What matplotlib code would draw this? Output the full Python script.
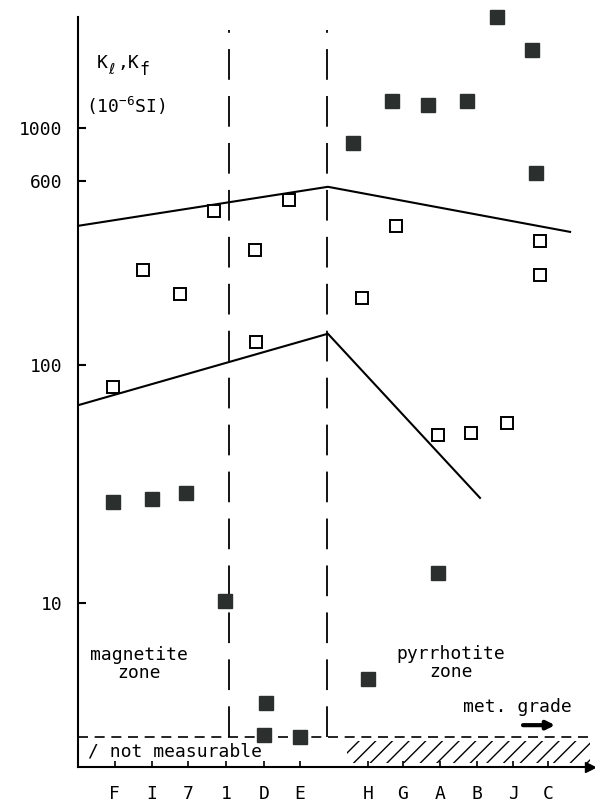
import numpy as np
import matplotlib
matplotlib.use('Agg')
import matplotlib.pyplot as plt
from matplotlib.ticker import NullLocator

plt.rcParams['font.family'] = ['DejaVu Sans Mono', 'DejaVu Sans']
plt.rcParams['mathtext.fontset'] = 'custom'
plt.rcParams['mathtext.rm'] = 'DejaVu Sans Mono'
plt.rcParams['mathtext.it'] = 'DejaVu Sans Mono'
plt.rcParams['mathtext.bf'] = 'DejaVu Sans Mono'
plt.rcParams['hatch.linewidth'] = 1.0

# sample sites along the metamorphic grade, gap between E and H
sites = ['F', 'I', '7', '1', 'D', 'E', 'H', 'G', 'A', 'B', 'J', 'C']
site_pos = [0, 1.0, 1.98, 3.01, 4.04, 5.01, 6.86, 7.80, 8.81, 9.81, 10.79, 11.73]

# open squares
open_x = [-0.05, 0.76, 1.76, 2.68, 3.79, 3.82, 4.72, 6.69, 7.62, 8.75, 9.65, 10.62, 11.52, 11.52]
open_k = [81, 252, 200, 448, 306, 126, 498, 192, 387, 51, 52, 57, 334, 240]

# filled squares
fill_x = [-0.05, 1.0, 1.92, 2.98, 4.09, 4.04, 5.01, 6.86, 6.45, 7.51, 8.48, 9.54,
          10.35, 11.30, 11.41, 8.75]
fill_k = [26.6, 27.4, 29, 10.2, 3.8, 2.78, 2.72, 4.8, 865, 1300, 1250, 1300,
          2930, 2130, 646, 13.4]

# boundary lines
upper_x = [-1.0, 5.77, 12.33]
upper_k = [387, 565, 365]
lower_x = [-1.0, 5.77, 9.89]
lower_k = [68, 136, 27.7]

zone_x = [3.1, 5.75]
detect_limit = 2.72

ytick_vals = [10, 100, 600, 1000]
ytick_labels = ['10', '100', '600', '1000']

fig = plt.figure(figsize=(5.95, 8.05), dpi=100)
ax = fig.add_axes([78 / 595, 38 / 805, (590 - 78) / 595, (767 - 17) / 805])
ax.set_yscale('log')
ax.set_xlim(-1.0, 12.87)
ax.set_ylim(2.04, 2930)

# boundary lines
ax.plot(upper_x, upper_k, color='black', lw=1.5)
ax.plot(lower_x, lower_k, color='black', lw=1.5)

# zone separators
for zx in zone_x:
    ax.plot([zx, zx], [detect_limit, 2590], color='black', lw=1.3,
            dashes=(17, 9))
ax.axhline(detect_limit, color='black', lw=1.2, dashes=(6, 4))

# not measurable band
ax.fill_between([6.29, 12.87], 2.13, 2.62, facecolor='none',
                edgecolor='black', hatch='//', lw=0)

ax.plot(open_x, open_k, 's', ms=9, mfc='white', mec='black', mew=1.4,
        clip_on=False, zorder=3)
ax.plot(fill_x, fill_k, 's', ms=9.5, mfc='#2b302e', mec='#2b302e',
        clip_on=False, zorder=3)

# axes styling
for side in ['top', 'right']:
    ax.spines[side].set_visible(False)
ax.spines['left'].set_linewidth(1.5)
ax.spines['bottom'].set_linewidth(1.5)
ax.plot(1, 0, '>', color='black', ms=7, transform=ax.transAxes, clip_on=False)

ax.set_yticks(ytick_vals)
ax.set_yticklabels(ytick_labels)
ax.yaxis.set_minor_locator(NullLocator())
ax.set_xticks(site_pos)
ax.set_xticklabels(sites)
ax.tick_params(axis='y', direction='in', length=6, width=1.5, pad=11, labelsize=13)
ax.tick_params(axis='x', direction='in', length=4, width=1.2, pad=13, labelsize=13)

# y-axis label, written as separate pieces so the subscripts stay large
ax.annotate('K', (-0.49, 1880), fontsize=13, va='center', ha='left')
ax.annotate('ℓ', (-0.49, 1880), xytext=(8.5, -5), textcoords='offset points',
            fontsize=11, va='center', ha='left')
ax.annotate(',K', (-0.49, 1880), xytext=(15, 0), textcoords='offset points',
            fontsize=13, va='center', ha='left')
ax.annotate('f', (-0.49, 1880), xytext=(30.5, -5), textcoords='offset points',
            fontsize=12, va='center', ha='left')
ax.text(-0.79, 1238, r'(10$^{-6}$SI)', fontsize=13, va='center', ha='left')

ax.text(0.65, 5.53, 'magnetite\nzone', fontsize=13, ha='center', va='center',
        multialignment='center', linespacing=1.0)
ax.text(9.1, 5.6, 'pyrrhotite\nzone', fontsize=13, ha='center', va='center',
        multialignment='center', linespacing=1.0)
ax.text(9.43, 3.65, 'met. grade', fontsize=13, ha='left', va='center')
ax.annotate('', xy=(12.0, 3.06), xytext=(10.98, 3.06),
            arrowprops=dict(arrowstyle='-|>', color='black', lw=3,
                            mutation_scale=12))
ax.text(-0.73, 2.36, '/ not measurable', fontsize=13, ha='left', va='center')

fig.savefig('out.png', dpi=100)
